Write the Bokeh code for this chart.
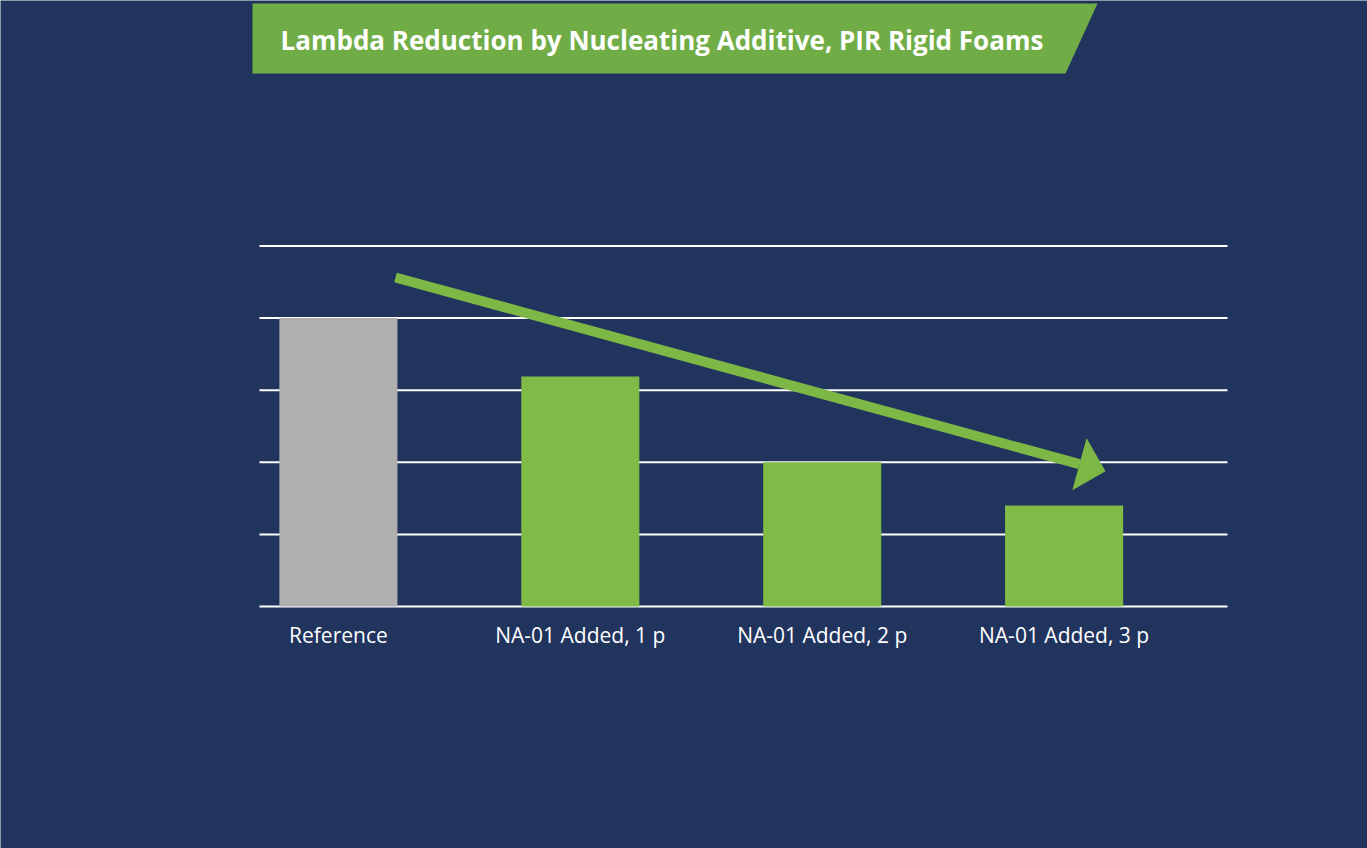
import math
from bokeh.plotting import figure
from bokeh.models import Range1d, ColumnDataSource
from bokeh.core.properties import value
from bokeh.embed import file_html
from bokeh.resources import INLINE

# ---------------- data ----------------
chart_title = "Lambda Reduction by Nucleating Additive, PIR Rigid Foams"
categories = ["Reference", "NA-01 Added, 1 p", "NA-01 Added, 2 p", "NA-01 Added, 3 p"]
lambda_values = [4.0, 3.19, 2.0, 1.4]
grid_levels = [0, 1, 2, 3, 4, 5]

# ---------------- styles / layout ----------------
NAVY = "#21345E"
BANNER_GREEN = "#70AD47"
BAR_GREEN = "#80BA47"
ARROW_GREEN = "#7DB846"
GRAY = "#AFAFAF"
bar_colors = [GRAY, BAR_GREEN, BAR_GREEN, BAR_GREEN]
FONT = "Open Sans"

W, H = 1367, 848
# mapping of data to canvas pixels
X_ORIGIN_PX, PX_PER_X = 337.9, 241.9     # category index 0 centre, category spacing
Y_ORIGIN_PX, PX_PER_Y = 606.0, 72.1      # value 0 baseline, px per unit
GRID_LEFT_PX, GRID_RIGHT_PX = 259, 1227
BAR_WIDTH = 0.488
LABEL_OFFSET_PX = 28


def to_x(px):
    return (px - X_ORIGIN_PX) / PX_PER_X


def to_y(py):
    return (Y_ORIGIN_PX - py) / PX_PER_Y


p = figure(width=W, height=H, title=None,
           x_range=Range1d(to_x(0), to_x(W)), y_range=Range1d(to_y(H), to_y(0)),
           output_backend="svg", toolbar_location=None,
           x_axis_location=None, y_axis_location=None, min_border=0,
           background_fill_color=NAVY, border_fill_color=NAVY, outline_line_color=None)
p.grid.visible = False
p.extra_x_ranges = {"px": Range1d(0, W)}
p.extra_y_ranges = {"px": Range1d(H, 0)}

# title banner
p.patch([252, 1097, 1065, 252], [3, 3, 73, 73], x_range_name="px", y_range_name="px",
        fill_color=BANNER_GREEN, line_color=None)
p.text(x=[280], y=[39], text=[chart_title], x_range_name="px", y_range_name="px",
       text_color="white", text_font=value(FONT), text_font_style="bold",
       text_font_size="26px", text_baseline="middle", text_align="left")

# horizontal grid lines
n = len(grid_levels)
p.segment(x0=[to_x(GRID_LEFT_PX)] * n, x1=[to_x(GRID_RIGHT_PX)] * n,
          y0=grid_levels, y1=grid_levels, line_color="white", line_width=2)

# bars
idx = list(range(len(categories)))
src = ColumnDataSource(dict(x=idx, top=lambda_values, color=bar_colors, label=categories))
p.vbar(x="x", top="top", bottom=0, width=BAR_WIDTH, fill_color="color", line_color=None, source=src)

# category labels
p.text(x="x", y=0, text="label", source=src, y_offset=LABEL_OFFSET_PX,
       text_color="white", text_font=value(FONT), text_font_size="21px",
       text_align="center", text_baseline="middle")

# ---------------- trend arrow (annotation) ----------------
start = (to_x(395), to_y(277))
tip = (to_x(1105), to_y(470.7))
head_len, head_half = 27.0, 27.0
dxp = (tip[0] - start[0]) * PX_PER_X
dyp = (tip[1] - start[1]) * PX_PER_Y
L = math.hypot(dxp, dyp)
ux, uy = dxp / L, dyp / L
nx, ny = -uy, ux
bx, by = dxp - head_len * ux, dyp - head_len * uy
base = (start[0] + bx / PX_PER_X, start[1] + by / PX_PER_Y)
c1 = (start[0] + (bx + head_half * nx) / PX_PER_X, start[1] + (by + head_half * ny) / PX_PER_Y)
c2 = (start[0] + (bx - head_half * nx) / PX_PER_X, start[1] + (by - head_half * ny) / PX_PER_Y)
p.line([start[0], base[0]], [start[1], base[1]], line_color=ARROW_GREEN, line_width=10)
p.patch([c1[0], tip[0], c2[0]], [c1[1], tip[1], c2[1]], fill_color=ARROW_GREEN, line_color=None)

open("out.html", "w").write(file_html(p, INLINE))
